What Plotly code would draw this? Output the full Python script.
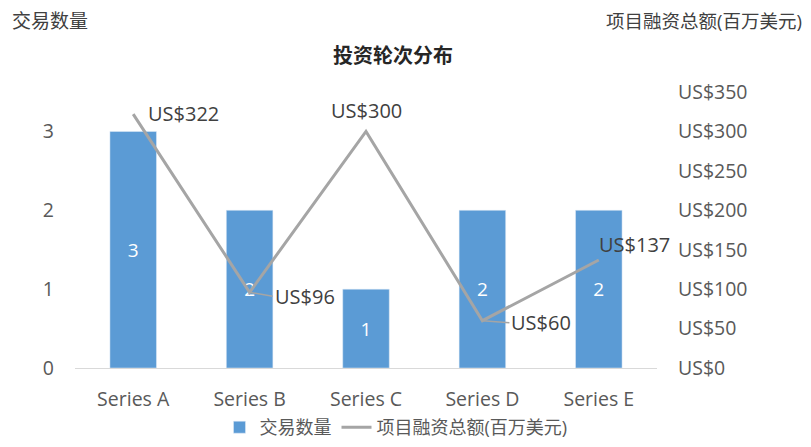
import plotly.graph_objects as go

categories = ["Series A", "Series B", "Series C", "Series D", "Series E"]
deal_counts = [3, 2, 1, 2, 2]
funding = [322, 96, 300, 60, 137]
right_ticks = [0, 50, 100, 150, 200, 250, 300, 350]

FONT = "Open Sans, Noto Sans CJK SC, sans-serif"
GRAY = "#595959"

# figure is rendered inside a page with 8px body margin
W, H = 795, 431
L, R, T, B = 67, 146, 84, 71
PW, PH = W - L - R, H - T - B


def px(xp):
    return (xp - 8 - L) / PW


def py(yp):
    return (H - B - (yp - 8)) / PH


fig = go.Figure()
fig.add_trace(go.Bar(
    x=categories, y=deal_counts, name="交易数量",
    marker=dict(color="#5B9BD5"), width=0.4,
    text=[str(v) for v in deal_counts], textposition="inside",
    insidetextanchor="middle",
    textfont=dict(color="white", size=19, family=FONT),
    yaxis="y",
))
fig.add_trace(go.Scatter(
    x=categories, y=funding, name="项目融资总额(百万美元)",
    mode="lines", line=dict(color="#A5A5A5", width=3),
    yaxis="y2",
))

# data labels for line: (ax, ay, xanchor, leader)
offsets = [(13, -1, "left", False), (23, 4, "left", True), (0, -21, "center", False),
           (27, 2, "left", True), (-2, -15, "left", False)]
for c, v, (ax, ay, xa, leader) in zip(categories, funding, offsets):
    fig.add_annotation(
        x=c, y=v, xref="x", yref="y2", text=f"US${v}",
        showarrow=True, arrowhead=0, arrowwidth=1.5,
        arrowcolor="#A5A5A5" if leader else "rgba(0,0,0,0)",
        ax=ax, ay=ay, standoff=0, xanchor=xa, yanchor="middle",
        font=dict(size=20, color="#404040", family=FONT),
    )

fig.add_annotation(x=px(10), y=py(21), xref="paper", yref="paper",
                   yanchor="middle", xanchor="left",
                   text="交易数量", showarrow=False, font=dict(size=19, color="#404040", family=FONT))
fig.add_annotation(x=px(804), y=py(21), xref="paper", yref="paper",
                   yanchor="middle", xanchor="right",
                   text="项目融资总额(百万美元)", showarrow=False,
                   font=dict(size=18.5, color="#404040", family=FONT))
fig.add_annotation(x=px(393), y=py(55), xref="paper", yref="paper",
                   yanchor="middle", xanchor="center",
                   text="<b>投资轮次分布</b>", showarrow=False,
                   font=dict(size=20, color="#262626", family=FONT))

fig.update_layout(
    width=W, height=H,
    margin=dict(l=L, r=R, t=T, b=B, autoexpand=False),
    plot_bgcolor="white", paper_bgcolor="white",
    font=dict(family=FONT, size=19, color=GRAY),
    showlegend=True,
    legend=dict(orientation="h", x=px(396), xanchor="center",
                y=-(B + 7) / PH, yanchor="bottom", bgcolor="rgba(0,0,0,0)",
                font=dict(size=18, color=GRAY, family=FONT), itemwidth=30,
                tracegroupgap=0),
    xaxis=dict(range=[-0.5, 4.5], showgrid=False, showline=True, linecolor="#D9D9D9",
               linewidth=1, automargin=False,
               ticks="", ticklabelstandoff=14, tickfont=dict(size=19.5, color=GRAY)),
    yaxis=dict(range=[0, 3.5], tickvals=[0, 1, 2, 3], showgrid=False, zeroline=False,
               automargin=False,
               showline=False, ticks="", ticklabelstandoff=20,
               tickfont=dict(size=19.5, color=GRAY)),
    yaxis2=dict(range=[0, 350], tickvals=right_ticks,
                ticktext=[f"US${t}" for t in right_ticks], automargin=False,
                overlaying="y", side="right", showgrid=False, zeroline=False,
                ticks="", ticklabelstandoff=20, tickfont=dict(size=19.5, color=GRAY)),
    bargap=0.6,
)

fig.write_html("out.html")
